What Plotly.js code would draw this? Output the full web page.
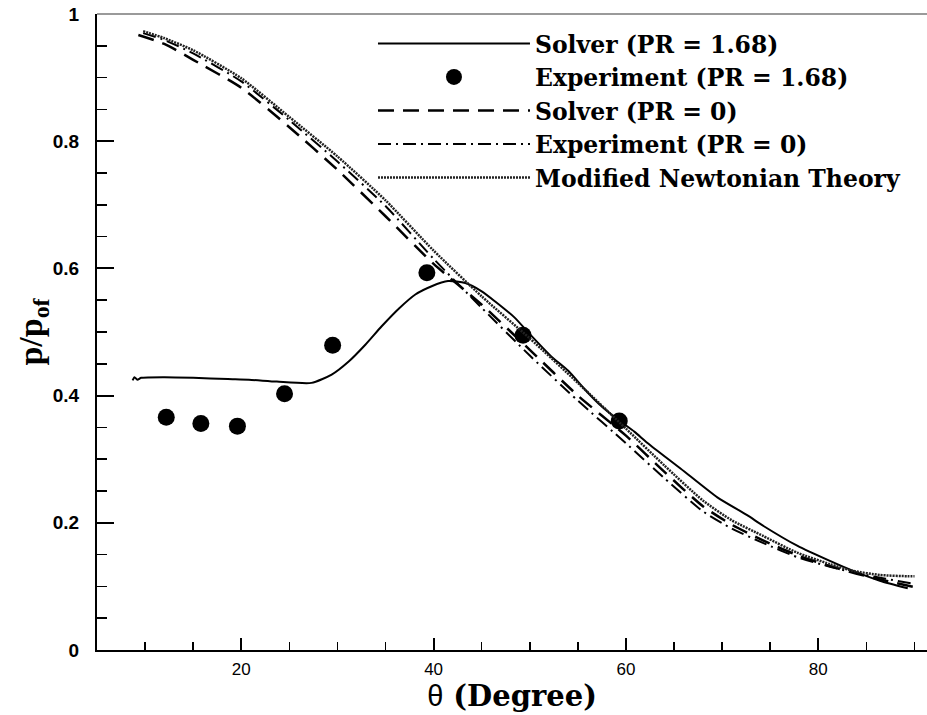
<!DOCTYPE html>
<html>
<head>
<meta charset="utf-8">
<script src="https://cdn.plot.ly/plotly-3.0.1.min.js"></script>
<style>html,body{margin:0;padding:0;background:#fff;}#chart{width:927px;height:715px;}</style>
</head>
<body>
<div id="chart"></div>
<script>
// Solver (PR = 1.68)
const thetaSolver168 = [8.7, 8.9, 9.2, 9.6, 12, 15, 18.6, 20.8, 23.7, 27.3, 29.4, 31.2, 32.9, 34.6, 36.4, 38.1, 39.8, 41.5, 43.3, 45, 46.4, 48.4, 50.1, 52.2, 54, 55.7, 57.4, 59.1, 60.9, 62.2, 65.7, 69.5, 72.6, 74.3, 77.8, 81.2, 83.6, 86.4, 89.3];
const pSolver168 = [0.424, 0.429, 0.425, 0.428, 0.429, 0.428, 0.426, 0.425, 0.422, 0.420, 0.433, 0.454, 0.480, 0.509, 0.537, 0.559, 0.572, 0.580, 0.577, 0.564, 0.548, 0.523, 0.495, 0.462, 0.439, 0.410, 0.384, 0.363, 0.343, 0.326, 0.285, 0.240, 0.212, 0.195, 0.164, 0.140, 0.1245, 0.109, 0.097];
// Experiment (PR = 1.68)
const thetaExp168 = [12.2, 15.8, 19.6, 24.5, 29.5, 39.3, 49.3, 59.3];
const pExp168 = [0.366, 0.356, 0.352, 0.403, 0.479, 0.593, 0.495, 0.360];
// Solver (PR = 0)
const thetaSolver0 = [9.3, 12, 15, 20, 25, 30, 35, 40, 45, 50, 55, 60, 64, 68, 71, 74.3, 77.8, 81.2, 84, 87, 90];
const pSolver0 = [0.967, 0.953, 0.928, 0.884, 0.822, 0.755, 0.682, 0.607, 0.543, 0.472, 0.400, 0.337, 0.280, 0.226, 0.197, 0.172, 0.149, 0.132, 0.120, 0.109, 0.099];
// Experiment (PR = 0)
const thetaExp0 = [9.8, 12, 15, 20, 25, 30, 35, 40, 45, 50, 55, 60, 64, 68, 71, 74.3, 77.8, 81.2, 84, 87, 90];
const pExp0 = [0.970, 0.959, 0.938, 0.894, 0.833, 0.768, 0.698, 0.615, 0.538, 0.463, 0.392, 0.325, 0.270, 0.218, 0.191, 0.168, 0.146, 0.131, 0.121, 0.112, 0.104];
// Modified Newtonian Theory
const thetaNewton = [9.8, 12, 15, 20, 25, 30, 35, 40, 45, 50, 55, 60, 64, 68, 71, 74.3, 77.8, 81.2, 83.6, 86.4, 89.3, 90];
const pNewton = [0.973, 0.962, 0.943, 0.899, 0.838, 0.776, 0.707, 0.628, 0.556, 0.490, 0.420, 0.348, 0.290, 0.235, 0.204, 0.179, 0.153, 0.135, 0.1245, 0.118, 0.116, 0.116];

const xTickVals = [20, 40, 60, 80];
const yTickVals = [0, 0.2, 0.4, 0.6, 0.8, 1];

const legendFont = {family: 'DejaVu Serif, Liberation Serif, serif', size: 23.5, weight: 'bold', color: '#000'};

const traces = [
  {x: thetaSolver168, y: pSolver168, name: 'Solver (PR = 1.68)', mode: 'lines', legendgroup: 'a',
   line: {color: '#000', width: 2, shape: 'spline', smoothing: 0.6}},
  {x: thetaExp168, y: pExp168, name: 'Experiment (PR = 1.68)', mode: 'markers', legendgroup: 'b',
   marker: {color: '#000', size: 17, symbol: 'circle'}},
  {x: thetaSolver0, y: pSolver0, name: 'Solver (PR = 0)', mode: 'lines', legendgroup: 'c',
   line: {color: '#000', width: 2.5, dash: '16px,9px', shape: 'spline', smoothing: 0.6}},
  {x: thetaExp0, y: pExp0, name: 'Experiment (PR = 0)', mode: 'lines', legendgroup: 'd',
   line: {color: '#000', width: 2, dash: '13px,5px,2px,5px', shape: 'spline', smoothing: 0.6}},
  {x: thetaNewton, y: pNewton, name: 'Modified Newtonian Theory', mode: 'lines', legendgroup: 'e',
   line: {color: '#222', width: 2.5, dash: '2px,1px', shape: 'spline', smoothing: 0.6}}
];

const layout = {
  width: 927, height: 715,
  margin: {l: 97, r: 0, t: 14, b: 65},
  paper_bgcolor: '#fff', plot_bgcolor: '#fff',
  showlegend: true,
  legend: {
    x: 0.3325, xanchor: 'left', y: 0.988, yanchor: 'top',
    bgcolor: 'rgba(0,0,0,0)', borderwidth: 0,
    font: legendFont, itemwidth: 152, tracegroupgap: 0, traceorder: 'grouped',
    itemclick: false
  },
  xaxis: {
    range: [5, 91.3], showgrid: false, zeroline: false,
    showline: true, linecolor: '#000', linewidth: 2,
    ticks: 'inside', ticklen: 12, tickwidth: 2, tickcolor: '#000',
    tickvals: xTickVals, ticklabelstandoff: 3,
    minor: {dtick: 5, tick0: 0, ticks: 'inside', ticklen: 8, tickwidth: 1.5, tickcolor: '#000', showgrid: false},
    tickfont: {family: 'Liberation Sans Narrow, Liberation Sans, Arial, sans-serif', size: 17, color: '#000'},
    title: {text: '<span style="font-family:Liberation Sans;font-weight:normal">θ</span> (Degree)',
            font: {family: 'DejaVu Serif, Liberation Serif, serif', size: 29, weight: 'bold', color: '#000'}, standoff: 5}
  },
  yaxis: {
    range: [0, 1], showgrid: false, zeroline: false,
    showline: true, linecolor: '#000', linewidth: 2,
    ticks: 'inside', ticklen: 17, tickwidth: 2, tickcolor: '#000',
    tickvals: yTickVals, ticklabelstandoff: 12,
    minor: {dtick: 0.05, tick0: 0, ticks: 'inside', ticklen: 10, tickwidth: 1.5, tickcolor: '#000', showgrid: false},
    tickfont: {family: 'Liberation Sans, Arial, sans-serif', size: 19, weight: 'bold', color: '#000'},
    title: {text: 'p/p<sub>of</sub>',
            font: {family: 'Liberation Serif, serif', size: 34, weight: 'bold', color: '#000'}, standoff: 0}
  },
  shapes: [
    {type: 'line', xref: 'paper', yref: 'paper', x0: 0, x1: 1, y0: 1, y1: 1, line: {color: '#9a9a9a', width: 2}}
  ]
};

Plotly.newPlot('chart', traces, layout, {displayModeBar: false, staticPlot: true});
</script>
</body>
</html>
